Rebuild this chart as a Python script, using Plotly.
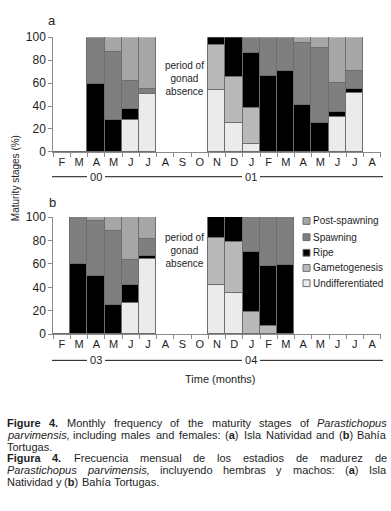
import plotly.graph_objects as go

W, H = 391, 511

months = ["F", "M", "A", "M", "J", "J", "A", "S", "O", "N", "D", "J", "F", "M", "A", "M", "J", "J", "A"]
stages = ["Undifferentiated", "Gametogenesis", "Ripe", "Spawning", "Post-spawning"]
colors = ["#ebebeb", "#b9b9b9", "#000000", "#7f7f7f", "#a6a6a6"]

# Panel a: Isla Natividad (2000-2001); None = no sample
a_undiff = [0, 0, 0, 0, 28, 50, None, None, None, 54, 25, 7, 0, 0, 0, 0, 30, 51, None]
a_gameto = [0, 0, 0, 0, 0, 0, None, None, None, 39, 40, 31, 0, 0, 0, 0, 0, 0, None]
a_ripe = [0, 0, 59, 28, 9, 0, None, None, None, 7, 35, 48, 66, 70, 41, 25, 5, 4, None]
a_spawn = [0, 0, 41, 59, 25, 5, None, None, None, 0, 0, 14, 34, 30, 54, 65, 25, 15, None]
a_post = [0, 0, 0, 13, 38, 45, None, None, None, 0, 0, 0, 0, 0, 5, 10, 40, 30, None]

# Panel b: Bahia Tortugas (2003-2004)
b_undiff = [0, 0, 0, 0, 27, 64, None, None, None, 42, 35, 0, 0, 0, None, None, None, None, None]
b_gameto = [0, 0, 0, 0, 0, 0, None, None, None, 40, 44, 19, 7, 0, None, None, None, None, None]
b_ripe = [0, 60, 50, 25, 15, 3, None, None, None, 18, 21, 51, 51, 59, None, None, None, None, None]
b_spawn = [0, 40, 47, 63, 21, 14, None, None, None, 0, 0, 30, 42, 41, None, None, None, None, None]
b_post = [0, 0, 3, 12, 37, 19, None, None, None, 0, 0, 0, 0, 0, None, None, None, None, None]

years_a = ["00", "01"]
years_b = ["03", "04"]

x = list(range(len(months)))
FONT = "Liberation Sans, Arial, sans-serif"
TXT = "#1e1e1e"

fig = go.Figure()
panels = [
    ("x", "y", [a_undiff, a_gameto, a_ripe, a_spawn, a_post]),
    ("x2", "y2", [b_undiff, b_gameto, b_ripe, b_spawn, b_post]),
]
for xa, ya, series in panels:
    for name, col, vals in zip(stages, colors, series):
        fig.add_trace(go.Bar(
            x=x, y=vals, name=name, xaxis=xa, yaxis=ya, width=1,
            marker=dict(color=col, line=dict(color="#6e6e6e", width=1)),
            showlegend=False, hoverinfo="skip",
        ))


def px(v):
    return v / W


def py(v):
    return 1 - v / H


x_dom = [px(53.3), px(380.7)]
axis_common = dict(
    range=[-0.5, len(months) - 0.5], tickvals=x, ticktext=months,
    ticks="outside", ticklen=0, showline=True, linecolor="#8a8a8a", linewidth=1,
    showgrid=False, zeroline=False, tickfont=dict(size=11, color=TXT, family=FONT),
    minor=dict(tickvals=[i - 0.5 for i in range(len(months) + 1)], ticks="outside",
               ticklen=4, tickcolor="#8a8a8a", showgrid=False),
    fixedrange=True,
)
yaxis_common = dict(
    range=[0, 100], tickvals=[0, 20, 40, 60, 80, 100], ticks="outside", ticklen=4,
    tickcolor="#8a8a8a", showline=True, linecolor="#8a8a8a", linewidth=1,
    showgrid=False, zeroline=False, tickfont=dict(size=12, color=TXT, family=FONT),
    fixedrange=True,
)

fig.update_layout(
    width=W, height=H, margin=dict(l=0, r=0, t=0, b=0),
    paper_bgcolor="white", plot_bgcolor="white",
    barmode="stack", bargap=0, showlegend=False,
    font=dict(family=FONT, size=11, color=TXT),
    xaxis=dict(domain=x_dom, anchor="y", **axis_common),
    yaxis=dict(domain=[py(149), py(31)], anchor="x", **yaxis_common),
    xaxis2=dict(domain=x_dom, anchor="y2", **axis_common),
    yaxis2=dict(domain=[py(336.5), py(216)], anchor="x2", **yaxis_common),
)

ann = []
shapes = []


def text(xp, yp, t, size=11, xanchor="center", yanchor="middle", bg=None, **kw):
    d = dict(x=px(xp), y=py(yp), xref="paper", yref="paper", text=t, showarrow=False,
             font=dict(size=size, color=TXT, family=FONT), xanchor=xanchor, yanchor=yanchor,
             borderpad=0, borderwidth=0, **kw)
    if bg:
        d["bgcolor"] = bg
    ann.append(d)


# panel labels
text(52, 14, "a", size=13)
text(52, 201, "b", size=13)

# period of gonad absence
text(184, 74, "period of<br>gonad<br>absence", size=10)
text(184, 250, "period of<br>gonad<br>absence", size=10)

# year lines
for yline, yrs in [(174.5, years_a), (363.3, years_b)]:
    shapes.append(dict(type="line", xref="paper", yref="paper", x0=px(52), x1=px(383),
                       y0=py(yline), y1=py(yline), line=dict(color="#111", width=1)))
    text(96, yline, "&nbsp;" + yrs[0] + "&nbsp;", size=11, bg="white")
    text(251, yline, "&nbsp;" + yrs[1] + "&nbsp;", size=11, bg="white")

# axis titles
text(15, 176, "Maturity stages (%)", size=10, textangle=-90)
text(220, 382, "Time (months)", size=11)

# legend (manual)
leg_y = [220, 236.7, 252.7, 268.3, 284]
for name, col, yy in zip(stages[::-1], colors[::-1], leg_y):
    shapes.append(dict(type="rect", xref="paper", yref="paper", x0=px(303), x1=px(310),
                       y0=py(yy + 3.5), y1=py(yy - 3.5), fillcolor=col,
                       line=dict(color="#6e6e6e", width=1)))
    text(312.5, yy, name, size=10, xanchor="left")

# caption, justified word by word
AW = {
    " ": 278, ".": 278, ",": 278, ":": 278, "(": 333, ")": 333, "-": 333, "í": 278,
    "a": 556, "b": 556, "c": 500, "d": 556, "e": 556, "f": 278, "g": 556, "h": 556,
    "i": 222, "j": 222, "k": 500, "l": 222, "m": 833, "n": 556, "o": 556, "p": 556,
    "q": 556, "r": 333, "s": 500, "t": 278, "u": 556, "v": 500, "w": 722, "x": 500,
    "y": 500, "z": 500, "A": 667, "B": 667, "C": 722, "D": 722, "E": 667, "F": 611,
    "G": 778, "H": 722, "I": 278, "J": 500, "K": 667, "L": 556, "M": 833, "N": 722,
    "O": 778, "P": 667, "Q": 778, "R": 722, "S": 667, "T": 611, "U": 722, "V": 667,
    "W": 944, "X": 667, "Y": 667, "Z": 611,
}
CAP = 11


def wwidth(words):
    tot = 0
    for w, st in words:
        tot += sum(AW.get(c, 556) for c in w) / 1000 * CAP * (1.07 if "b" in st else 1)
    return tot


def fmt(w, st):
    if st == "b":
        return "<b>" + w + "</b>"
    if st == "i":
        return "<i>" + w + "</i>"
    if st == "pb":  # parenthesised bold letter
        return "(<b>" + w[1:-1] + "</b>)"
    return w


cap_lines = [
    ([("Figure", "b"), ("4.", "b"), ("Monthly", ""), ("frequency", ""), ("of", ""), ("the", ""),
      ("maturity", ""), ("stages", ""), ("of", ""), ("Parastichopus", "i")], True),
    ([("parvimensis,", "i"), ("including", ""), ("males", ""), ("and", ""), ("females:", ""),
      ("(a)", "pb"), ("Isla", ""), ("Natividad", ""), ("and", ""), ("(b)", "pb"), ("Bahía", "")], True),
    ([("Tortugas.", "")], False),
    ([("Figura", "b"), ("4.", "b"), ("Frecuencia", ""), ("mensual", ""), ("de", ""), ("los", ""),
      ("estadios", ""), ("de", ""), ("madurez", ""), ("de", "")], True),
    ([("Parastichopus", "i"), ("parvimensis,", "i"), ("incluyendo", ""), ("hembras", ""), ("y", ""),
      ("machos:", ""), ("(a)", "pb"), ("Isla", "")], True),
    ([("Natividad", ""), ("y", ""), ("(b)", "pb"), ("Bahía", ""), ("Tortugas.", "")], False),
]
cap_y = [428, 440.5, 452.5, 464, 476, 488]
LEFT, RIGHT = 7, 387
for (words, just), yy in zip(cap_lines, cap_y):
    widths = [wwidth([wd]) for wd in words]
    if just and len(words) > 1:
        gap = (RIGHT - LEFT - sum(widths)) / (len(words) - 1)
    else:
        gap = AW[" "] / 1000 * CAP
    xpos = LEFT
    for i, (wd, w) in enumerate(zip(words, widths)):
        if just and i == len(words) - 1:
            text(RIGHT, yy, fmt(*wd), size=CAP, xanchor="right")
        else:
            text(xpos, yy, fmt(*wd), size=CAP, xanchor="left")
        xpos += w + gap

fig.update_layout(annotations=ann, shapes=shapes)
fig.write_html("out.html", config={"displayModeBar": False},
               post_script="document.body.style.margin='0';document.body.style.overflow='hidden';")
